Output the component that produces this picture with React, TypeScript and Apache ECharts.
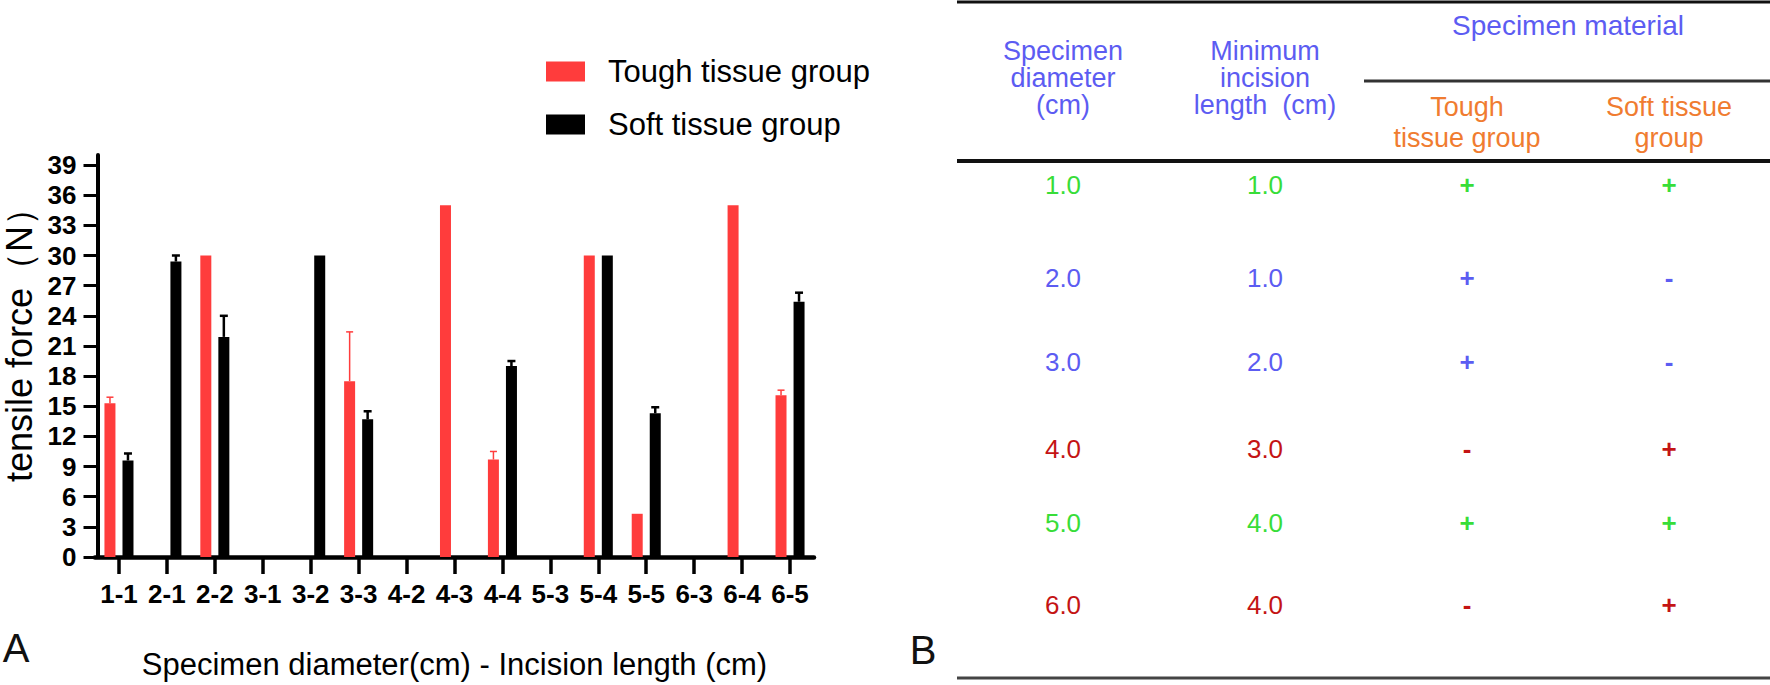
import React, { useEffect, useRef } from 'react';
import * as echarts from 'echarts';

// ---------- Panel A data ----------
const categories = ['1-1', '2-1', '2-2', '3-1', '3-2', '3-3', '4-2', '4-3', '4-4', '5-3', '5-4', '5-5', '6-3', '6-4', '6-5'];
const toughValues = [15.3, null, 30, null, null, 17.5, null, 35, 9.7, null, 30, 4.3, null, 35, 16.1];
const toughErrors = [0.6, null, null, null, null, 4.9, null, null, 0.8, null, null, null, null, null, 0.5];
const softValues = [9.6, 29.4, 21.9, null, 30, 13.7, null, null, 19.0, null, 30, 14.3, null, null, 25.4];
const softErrors = [0.7, 0.6, 2.1, null, null, 0.8, null, null, 0.5, null, null, 0.6, null, null, 0.9];
const yTickValues = [0, 3, 6, 9, 12, 15, 18, 21, 24, 27, 30, 33, 36, 39];
const yMax = 40;
const seriesNames = ['Tough tissue group', 'Soft tissue group'];
const yAxisTitle = 'tensile force（N）';
const xAxisTitle = 'Specimen diameter(cm) - Incision length (cm)';

// ---------- Panel B data ----------
const tableHeaderDiameter = 'Specimen\ndiameter\n(cm)';
const tableHeaderIncision = 'Minimum\nincision\nlength  (cm)';
const tableHeaderMaterial = 'Specimen material';
const tableHeaderTough = 'Tough\ntissue group';
const tableHeaderSoft = 'Soft tissue\ngroup';
const tableDiameters = ['1.0', '2.0', '3.0', '4.0', '5.0', '6.0'];
const tableIncisions = ['1.0', '1.0', '2.0', '3.0', '4.0', '4.0'];
const tableTough = ['+', '+', '+', '-', '+', '-'];
const tableSoft = ['+', '-', '-', '+', '+', '+'];

const FONT = '"Liberation Sans", Arial, Helvetica, sans-serif';
const RED = '#FF3C3C';
const BLACK = '#000000';
const BAR_WIDTH = 11;
const BAR_OFFSET = 9;

const GREEN = '#38DD38';
const BLUE = '#5C5CF2';
const DARKRED = '#C41414';
const ORANGE = '#F07C30';
const rowColors = [GREEN, BLUE, BLUE, DARKRED, GREEN, DARKRED];
const colX = [1063, 1265, 1467, 1669];
const rowY = [185, 278, 362, 449, 523, 605];

function errorSeries(name: string, values: (number | null)[], errors: (number | null)[], side: number, color: string, lw: number, capHalf: number) {
  const data: number[][] = [];
  values.forEach((v, i) => {
    const e = errors[i];
    if (v != null && e != null) data.push([i, v, e]);
  });
  return {
    type: 'custom',
    name: name,
    silent: true,
    z: 4,
    encode: { x: 0, y: 1 },
    data,
    renderItem: (params: any, api: any) => {
      const i = api.value(0);
      const v = api.value(1);
      const e = api.value(2);
      const base = api.coord([i, v]);
      const top = api.coord([i, v + e]);
      const x = base[0] + side * BAR_OFFSET;
      return {
        type: 'group',
        children: [
          { type: 'line', shape: { x1: x, y1: base[1], x2: x, y2: top[1] }, style: { stroke: color, lineWidth: lw } },
          { type: 'line', shape: { x1: x - capHalf, y1: top[1], x2: x + capHalf, y2: top[1] }, style: { stroke: color, lineWidth: lw } },
        ],
      };
    },
  };
}

function txt(text: string, x: number, y: number, fill: string, fontSize: number, lineHeight?: number, weight = 'normal') {
  return {
    type: 'text',
    x,
    y,
    style: {
      text,
      fill,
      fontSize,
      fontFamily: FONT,
      fontWeight: weight,
      align: 'center',
      verticalAlign: 'middle',
      lineHeight: lineHeight || fontSize,
    },
  };
}

function hline(x1: number, x2: number, y: number, w: number, color: string) {
  return { type: 'line', shape: { x1, y1: y, x2, y2: y }, style: { stroke: color, lineWidth: w } };
}

export default function App() {
  const ref = useRef<HTMLDivElement>(null);
  useEffect(() => {
    document.body.style.margin = '0';
    document.body.style.overflow = 'hidden';
    const chart = echarts.init(ref.current!, null, { renderer: 'svg' });

    const graphics: any[] = [];
    // panel letters
    graphics.push(txt('A', 16, 648, '#111', 40));
    graphics.push(txt('B', 923, 650, '#111', 40));
    // table lines
    graphics.push(hline(957, 1770, 2, 3, '#111'));
    graphics.push(hline(1364, 1770, 81, 3, '#333'));
    graphics.push(hline(957, 1770, 161, 4, '#111'));
    graphics.push(hline(957, 1770, 678, 3, '#444'));
    // headers
    graphics.push(txt(tableHeaderDiameter, colX[0], 78, BLUE, 27, 27));
    graphics.push(txt(tableHeaderIncision, colX[1], 78, BLUE, 27, 27));
    graphics.push(txt(tableHeaderMaterial, (colX[2] + colX[3]) / 2, 25, BLUE, 28));
    graphics.push(txt(tableHeaderTough, colX[2], 122, ORANGE, 27, 31));
    graphics.push(txt(tableHeaderSoft, colX[3], 122, ORANGE, 27, 31));
    // body
    tableDiameters.forEach((d, r) => {
      const c = rowColors[r];
      graphics.push(txt(d, colX[0], rowY[r], c, 26));
      graphics.push(txt(tableIncisions[r], colX[1], rowY[r], c, 26));
      graphics.push(txt(tableTough[r], colX[2], rowY[r], c, 26, undefined, 'bold'));
      graphics.push(txt(tableSoft[r], colX[3], rowY[r], c, 26, undefined, 'bold'));
    });

    chart.setOption({
      animation: false,
      backgroundColor: '#ffffff',
      legend: {
        data: seriesNames,
        orient: 'vertical',
        left: 546,
        top: 56,
        padding: 0,
        itemWidth: 39,
        itemHeight: 20,
        itemGap: 22,
        icon: 'rect',
        textStyle: { fontSize: 31, color: '#000', fontFamily: FONT, padding: [0, 0, 0, 18] },
      },
      grid: { left: 95, top: 155, width: 719, height: 403.3, containLabel: false },
      xAxis: {
        type: 'category',
        data: categories,
        name: xAxisTitle,
        nameLocation: 'middle',
        nameGap: 92,
        nameTextStyle: { fontSize: 31, color: '#000', fontFamily: FONT, lineHeight: 31 },
        axisLine: { show: true, lineStyle: { color: '#000', width: 4.5 } },
        axisTick: { show: true, alignWithLabel: true, length: 17, lineStyle: { color: '#000', width: 3.5 } },
        axisLabel: { fontSize: 26, fontWeight: 'bold', color: '#000', fontFamily: FONT, margin: 24, interval: 0 },
        splitLine: { show: false },
      },
      yAxis: {
        type: 'value',
        min: 0,
        max: yMax,
        offset: -2.5,
        name: yAxisTitle,
        nameLocation: 'middle',
        nameRotate: 90,
        nameGap: 60,
        nameTextStyle: { fontSize: 36, color: '#000', fontFamily: FONT, padding: [0, 0, 0, 40] },
        axisLine: { show: true, lineStyle: { color: '#000', width: 4 } },
        axisTick: { show: true, length: 14, lineStyle: { color: '#000', width: 3 }, customValues: yTickValues },
        axisLabel: { fontSize: 26, fontWeight: 'bold', color: '#000', fontFamily: FONT, margin: 21, customValues: yTickValues },
        splitLine: { show: false },
      },
      series: [
        {
          type: 'bar',
          name: seriesNames[0],
          data: toughValues,
          barWidth: BAR_WIDTH,
          barGap: '64%',
          itemStyle: { color: RED },
          z: 2,
        },
        {
          type: 'bar',
          name: seriesNames[1],
          data: softValues,
          barWidth: BAR_WIDTH,
          barGap: '64%',
          itemStyle: { color: BLACK },
          z: 2,
        },
        errorSeries('Tough error', toughValues, toughErrors, -1, RED, 1.5, 3.5),
        errorSeries('Soft error', softValues, softErrors, 1, BLACK, 2.5, 4),
      ],
      graphic: graphics,
    });
    return () => chart.dispose();
  }, []);
  return <div ref={ref} style={{ width: 1770, height: 685 }} />;
}
